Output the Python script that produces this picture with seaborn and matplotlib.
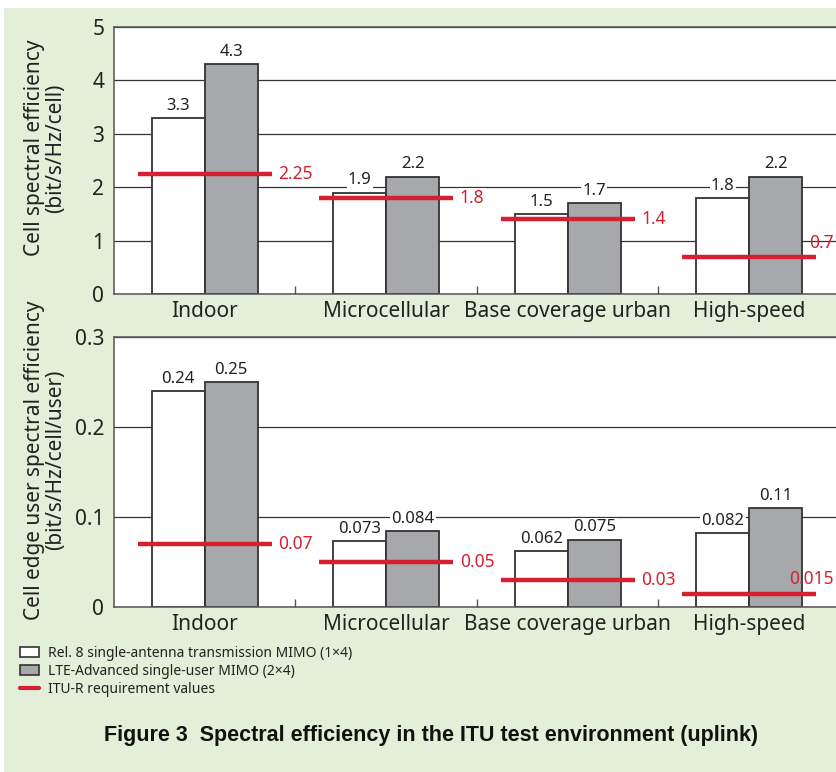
import matplotlib
matplotlib.use("Agg")
import matplotlib.pyplot as plt
import matplotlib.patches as mpatches
import matplotlib.lines as mlines
import seaborn as sns
import pandas as pd

categories = ["Indoor", "Microcellular", "Base coverage urban", "High-speed"]
series_names = ["Rel. 8 single-antenna transmission MIMO (1\u00d74)",
                "LTE-Advanced single-user MIMO (2\u00d74)"]
req_name = "ITU-R requirement values"

cell_rel8 = [3.3, 1.9, 1.5, 1.8]
cell_lte = [4.3, 2.2, 1.7, 2.2]
cell_req = [2.25, 1.8, 1.4, 0.7]
cell_rel8_lbl = ["3.3", "1.9", "1.5", "1.8"]
cell_lte_lbl = ["4.3", "2.2", "1.7", "2.2"]
cell_req_lbl = ["2.25", "1.8", "1.4", "0.7"]

edge_rel8 = [0.24, 0.073, 0.062, 0.082]
edge_lte = [0.25, 0.084, 0.075, 0.11]
edge_req = [0.07, 0.05, 0.03, 0.015]
edge_rel8_lbl = ["0.24", "0.073", "0.062", "0.082"]
edge_lte_lbl = ["0.25", "0.084", "0.075", "0.11"]
edge_req_lbl = ["0.07", "0.05", "0.03", "0.015"]

cell_yticks = [0, 1, 2, 3, 4, 5]
cell_yticklabels = ["0", "1", "2", "3", "4", "5"]
edge_yticks = [0, 0.1, 0.2, 0.3]
edge_yticklabels = ["0", "0.1", "0.2", "0.3"]

title = "Figure 3  Spectral efficiency in the ITU test environment (uplink)"
ylabel_top = "Cell spectral efficiency\n(bit/s/Hz/cell)"
ylabel_bot = "Cell edge user spectral efficiency\n(bit/s/Hz/cell/user)"

sns.set_theme(style="white")
plt.rcParams["font.family"] = ["Noto Sans", "DejaVu Sans"]

BG = "#e3efd8"
GRAY = "#a7a8ab"
RED = "#d42030"
DARK = "#333333"

W, H = 837, 772
fig = plt.figure(figsize=(W / 100, H / 100), dpi=100, facecolor="white")
fig.patches.append(mpatches.Rectangle((4 / W, 0), 1, 1 - 8 / H, transform=fig.transFigure,
                                      facecolor=BG, edgecolor="none", zorder=-10))


def axrect(x0, y0, x1, y1):
    return [x0 / W, 1 - y1 / H, (x1 - x0) / W, (y1 - y0) / H]


def panel(ax, rel8, lte, req, rel8_lbl, lte_lbl, req_lbl, ymax, yticks, yticklabels, last_dy):
    df = pd.DataFrame({
        "category": categories * 2,
        "value": rel8 + lte,
        "series": [series_names[0]] * 4 + [series_names[1]] * 4,
    })
    sns.barplot(data=df, x="category", y="value", hue="series", order=categories,
                hue_order=series_names, palette=["white", GRAY], width=0.584,
                edgecolor=DARK, linewidth=1.3, ax=ax, legend=False, zorder=2, saturation=1)
    for cont, lbls in zip(ax.containers, [rel8_lbl, lte_lbl]):
        ax.bar_label(cont, labels=lbls, padding=3, fontsize=12, color="#222222",
                     bbox=dict(facecolor="white", edgecolor="none", pad=1.0))
    half = 0.37
    for i, (v, lbl) in enumerate(zip(req, req_lbl)):
        ax.hlines(v, i - half, i + half, color=RED, lw=3.2, zorder=4)
        if i == len(req) - 1:
            ax.text(3.465, v + ymax * last_dy, lbl, color=RED, fontsize=12.5,
                    ha="right", va="center", zorder=5)
        else:
            ax.text(i + half + 0.035, v, lbl, color=RED, fontsize=12.5, ha="left", va="center",
                    zorder=5, bbox=dict(facecolor="white", edgecolor="none", pad=0.5))
    ax.set_xlim(-0.5, 3.5)
    ax.set_ylim(0, ymax)
    ax.set_yticks(yticks)
    ax.set_yticklabels(yticklabels)
    ax.yaxis.grid(True, color=DARK, lw=0.9)
    ax.set_axisbelow(True)
    ax.set_xlabel("")
    ax.set_ylabel("")
    ax.set_xticks(range(len(categories)))
    ax.set_xticklabels(categories)
    ax.set_xticks([0.5, 1.5, 2.5], minor=True)
    ax.tick_params(axis="x", which="major", length=0, pad=5, labelsize=15, colors="#222222")
    ax.tick_params(axis="x", which="minor", direction="in", length=6, width=1, color="#555555",
                   bottom=True)
    ax.tick_params(axis="y", length=0, pad=7, labelsize=15, colors="#222222")
    for s in ["left", "bottom", "top"]:
        ax.spines[s].set_visible(True)
        ax.spines[s].set_color("#555555")
        ax.spines[s].set_linewidth(1.1)
    ax.spines["right"].set_visible(False)
    ax.set_facecolor("white")


ax1 = fig.add_axes(axrect(114, 27, 840, 294))
panel(ax1, cell_rel8, cell_lte, cell_req, cell_rel8_lbl, cell_lte_lbl, cell_req_lbl,
      5, cell_yticks, cell_yticklabels, 0.05)
ax2 = fig.add_axes(axrect(114, 337, 840, 607))
panel(ax2, edge_rel8, edge_lte, edge_req, edge_rel8_lbl, edge_lte_lbl, edge_req_lbl,
      0.3, edge_yticks, edge_yticklabels, 0.055)

fig.text(45 / W, 1 - 148 / H, ylabel_top, rotation=90, ha="center", va="center",
         multialignment="center", fontsize=15, color="#222222", linespacing=1.0)
fig.text(45 / W, 1 - 460 / H, ylabel_bot, rotation=90, ha="center", va="center",
         multialignment="center", fontsize=15, color="#222222", linespacing=1.0)

handles = [
    mpatches.Patch(facecolor="white", edgecolor=DARK, linewidth=1.2),
    mpatches.Patch(facecolor=GRAY, edgecolor=DARK, linewidth=1.2),
    mlines.Line2D([], [], color=RED, lw=3),
]
fig.legend(handles, series_names + [req_name], loc="upper left",
           bbox_to_anchor=(20 / W, 1 - 646 / H), frameon=False, fontsize=10,
           handlelength=1.4, handleheight=0.7, handletextpad=0.6, labelspacing=0.2,
           borderaxespad=0, borderpad=0, labelcolor="#222222")

fig.text(431 / W, 1 - 735 / H, title, ha="center", va="center", fontsize=15.5,
         fontweight="bold", family=["Liberation Sans", "DejaVu Sans"], color="#111111")

fig.savefig("out.png", dpi=100, facecolor="white")
